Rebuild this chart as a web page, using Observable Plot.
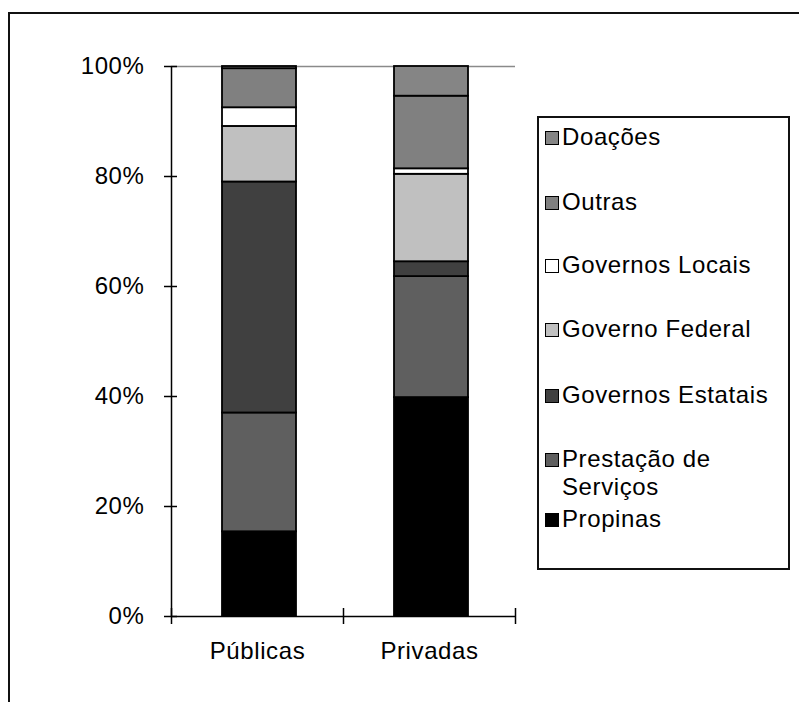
<!DOCTYPE html>
<html>
<head>
<meta charset="utf-8">
<script src="https://cdn.jsdelivr.net/npm/d3@7"></script>
<script src="https://cdn.jsdelivr.net/npm/@observablehq/plot@0.6"></script>
<style>
  body { margin: 0; background: #fff; font-family: "Liberation Sans", Arial, sans-serif; }
  #wrap { position: relative; width: 799px; height: 702px; overflow: hidden; }
  #frame { position: absolute; left: 8px; top: 12px; width: 900px; height: 900px; border-left: 2px solid #111; border-top: 2px solid #111; box-sizing: border-box; }
  #chart { position: absolute; left: 0; top: 0; }
  #legend { position: absolute; left: 537px; top: 116px; width: 253px; height: 454px; border: 2px solid #111; box-sizing: border-box; background: #fff; }
  .item { position: absolute; left: 6px; display: flex; align-items: flex-start; font-size: 24px; letter-spacing: 0.6px; line-height: 28px; color: #000; }
  .sw { width: 12px; height: 12px; border: 1.5px solid #000; margin-top: 8px; margin-right: 3px; flex: none; }
</style>
</head>
<body>
<div id="wrap">
  <div id="frame"></div>
  <div id="chart"></div>
  <div id="legend"></div>
</div>
<script>
// ---- data ----
const categories = ["Públicas", "Privadas"];
const series = ["Propinas", "Prestação de Serviços", "Governos Estatais", "Governo Federal", "Governos Locais", "Outras", "Doações"];
const publicas = [15.4, 21.6, 42.0, 10.1, 3.4, 7.1, 0.4];
const privadas = [39.8, 22.0, 2.7, 15.9, 1.0, 13.2, 5.4];
const colors = ["#000000", "#5f5f5f", "#404040", "#c0c0c0", "#ffffff", "#808080", "#858585"];
const yTicks = [0, 0.2, 0.4, 0.6, 0.8, 1];
const legendOrder = ["Doações", "Outras", "Governos Locais", "Governo Federal", "Governos Estatais", "Prestação de Serviços", "Propinas"];
const legendLabels = {"Prestação de Serviços": "Prestação de<br>Serviços"};

// build stacked rows
const values = [publicas, privadas];
const rows = [];
categories.forEach((cat, i) => {
  let acc = 0;
  series.forEach((s, j) => {
    const v = values[i][j] / 100;
    rows.push({cat, i, i2: i + 1, series: s, y1: acc, y2: acc + v});
    acc += v;
  });
});

const W = 799, H = 702;
const plot = Plot.plot({
  width: W,
  height: H,
  marginLeft: 171,
  marginRight: 284,
  marginTop: 66,
  marginBottom: 86,
  style: {fontFamily: "'Liberation Sans', Arial, sans-serif", fontSize: "24px", letterSpacing: "0.6px", color: "#000", background: "transparent"},
  x: {type: "linear", domain: [0, 2]},
  y: {domain: [0, 1]},
  color: {domain: series, range: colors},
  marks: [
    Plot.ruleY([1], {stroke: "#8a8a8a", strokeWidth: 1.5}),
    Plot.rect(rows, {x1: "i", x2: "i2", y1: "y1", y2: "y2", fill: "series", stroke: "#000", strokeWidth: 1.8, insetLeft: 51, insetRight: 47}),
    Plot.ruleX([0], {stroke: "#000", strokeWidth: 1.5}),
    Plot.ruleY([0], {stroke: "#000", strokeWidth: 1.5}),
    Plot.axisY({ticks: yTicks, tickFormat: d3.format(".0%"), tickSize: 7, tickPadding: 20, color: "#000", strokeWidth: 1.5, fontSize: 24}),
    Plot.axisY({ticks: yTicks, tickFormat: () => "", tickSize: 6, dx: 6, color: "#000", strokeWidth: 1.5}),
    Plot.axisX({ticks: [0, 1, 2], tickFormat: () => "", tickSize: 8, color: "#000", strokeWidth: 1.5}),
    Plot.axisX({ticks: [0, 1, 2], tickFormat: () => "", tickSize: 8, dy: -8, color: "#000", strokeWidth: 1.5}),
    Plot.axisX({ticks: [0.5, 1.5], tickSize: 0, tickPadding: 25, tickFormat: d => categories[Math.floor(d)], color: "#000", fontSize: 24})
  ]
});
document.getElementById("chart").appendChild(plot);

// legend
const legend = document.getElementById("legend");
const tops = [5, 70, 133, 197, 263, 327, 387];
legendOrder.forEach((s, k) => {
  const it = document.createElement("div");
  it.className = "item";
  it.style.top = tops[k] + "px";
  const sw = document.createElement("div");
  sw.className = "sw";
  sw.style.background = colors[series.indexOf(s)];
  const tx = document.createElement("div");
  tx.innerHTML = legendLabels[s] || s;
  it.appendChild(sw);
  it.appendChild(tx);
  legend.appendChild(it);
});
</script>
</body>
</html>
